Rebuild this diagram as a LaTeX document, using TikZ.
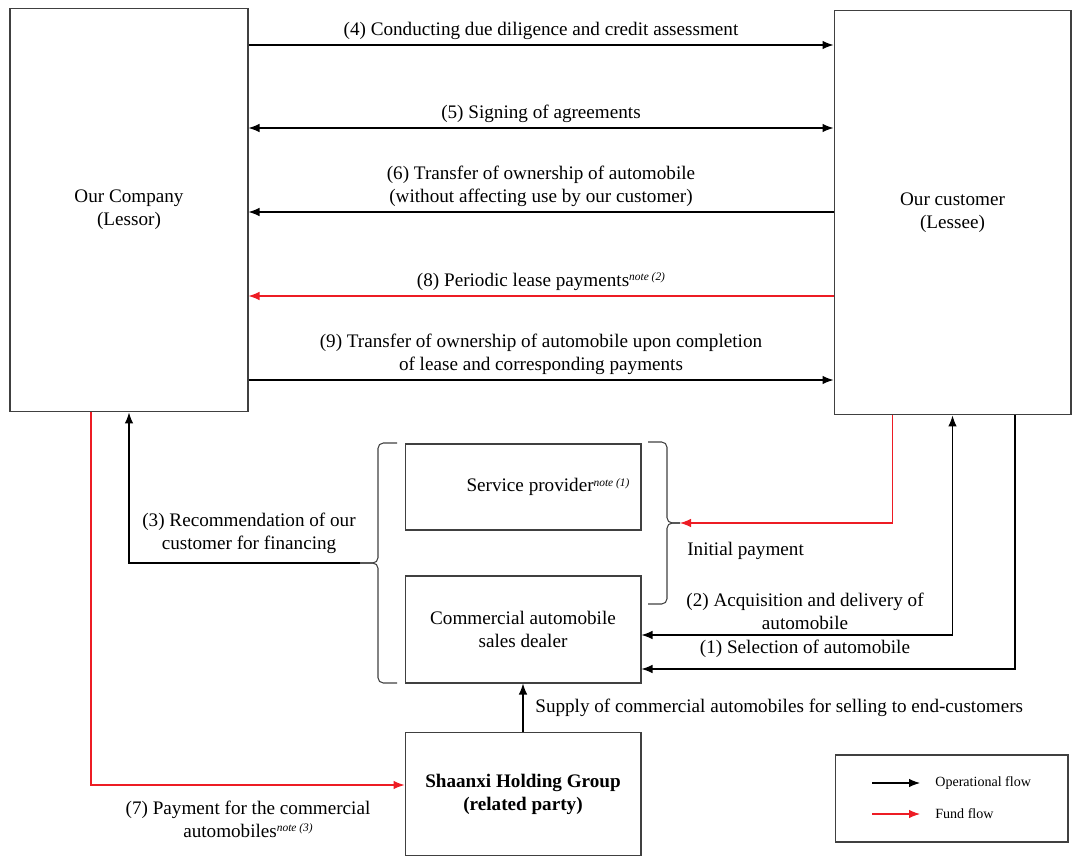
\documentclass[tikz,border=0pt]{standalone}
\usepackage{fontspec}
\setmainfont{Liberation Serif}
\usetikzlibrary{arrows.meta}
\definecolor{fundred}{RGB}{237,28,36}
\newcommand{\notemark}[1]{\raisebox{0.6ex}{\fontsize{6.5}{7}\selectfont\itshape note (#1)}}

\begin{document}
\begin{tikzpicture}[x=0.02cm,y=-0.02cm,>={Latex[length=2.2mm,width=1.7mm]},
  font=\fontsize{10.9}{13}\selectfont,
  boxstyle/.style={draw=black!75,line width=0.6pt,align=center,inner sep=0pt},
  opline/.style={draw=black,line width=0.6pt},
  fundline/.style={draw=fundred,line width=0.6pt},
  bracestyle/.style={draw=black!75,line width=0.6pt,rounded corners=3pt},
  lblstyle/.style={align=center,inner sep=3pt}]
 \useasboundingbox (0,0) rectangle (1072,856);

 \node [boxstyle,minimum width=4.76cm,minimum height=8.08cm] (company) at (129,210) {Our Company\\(Lessor)};
 \node [boxstyle,minimum width=4.74cm,minimum height=8.1cm] (customer) at (952.5,212.5) {Our customer\\(Lessee)};
 \node [boxstyle,minimum width=4.72cm,minimum height=1.72cm] (provider) at (523,487) {\hspace*{1cm}Service provider\notemark{1}};
 \node [boxstyle,minimum width=4.72cm,minimum height=2.14cm] (dealer) at (523,629.5) {Commercial automobile\\sales dealer};
 \node [boxstyle,minimum width=4.72cm,minimum height=2.46cm,font=\fontsize{10.9}{13}\selectfont\bfseries] (shaanxi) at (523,794) {Shaanxi Holding Group\\(related party)};
 \node [boxstyle,minimum width=4.66cm,minimum height=1.74cm] (legend) at (951.5,798.5) {};

 \foreach \yy/\tip/\kind/\txt in {45/->/opline/{(4) Conducting due diligence and credit assessment},
     128/<->/opline/{(5) Signing of agreements},
     212/<-/opline/{(6) Transfer of ownership of automobile\\(without affecting use by our customer)},
     296/<-/fundline/{(8) Periodic lease payments\notemark{2}},
     380/->/opline/{(9) Transfer of ownership of automobile upon completion\\of lease and corresponding payments}}
   {\coordinate (lvl) at (0,\yy);
    \draw [\kind,\tip] (company.east |- lvl) -- (customer.west |- lvl) node [lblstyle,above,midway] {\txt};}

 \coordinate (lbrace) at (360,563);
 \coordinate (rbrace) at (680,523);
 \draw [bracestyle] (397,443) -- (378,443) -- (378,563) -- (lbrace);
 \draw [bracestyle] (397,683) -- (378,683) -- (378,563) -- (lbrace);
 \draw [bracestyle] (648,442) -- (667,442) -- (667,523) -- (rbrace);
 \draw [bracestyle] (648,604) -- (667,604) -- (667,523) -- (rbrace);

 \draw [opline,->] (lbrace) -| (company.south);
 \node [lblstyle] (recomm) at (249,533) {(3) Recommendation of our\\customer for financing};

 \draw [fundline,->] ([xshift=-0.76cm]company.south) |- ([yshift=0.18cm]shaanxi.west);
 \node [lblstyle] (payment) at (248,819) {(7) Payment for the commercial\\automobiles\notemark{3}};

 \draw [fundline,->] ([xshift=-1.2cm]customer.south) |- (rbrace);
 \node [anchor=west,inner sep=0pt] (initial) at (687,551) {Initial payment};

 \draw [opline,<->] ([yshift=-0.11cm]dealer.east) -| (customer.south);
 \node [lblstyle] (acquire) at (805,611) {(2) Acquisition and delivery of\\automobile};

 \draw [opline,->] ([xshift=1.25cm]customer.south) |- ([yshift=-0.79cm]dealer.east);
 \node [lblstyle] (select) at (805,649) {(1) Selection of automobile};

 \draw [opline,->] (shaanxi.north) -- (dealer.south);
 \node [anchor=west,inner sep=0pt] (supply) at (535,708) {Supply of commercial automobiles for selling to end-customers};

 \coordinate (opA) at (872,783);
 \coordinate (opB) at (920,783);
 \coordinate (fdA) at (872,814);
 \coordinate (fdB) at (920,814);
 \draw [opline,->] (opA) -- (opB);
 \draw [fundline,->] (fdA) -- (fdB);
 \node [anchor=west,inner sep=0pt,font=\fontsize{8}{9}\selectfont] (optxt) at (935,783) {Operational flow};
 \node [anchor=west,inner sep=0pt,font=\fontsize{8}{9}\selectfont] (fdtxt) at (935,814) {Fund flow};
\end{tikzpicture}
\end{document}
